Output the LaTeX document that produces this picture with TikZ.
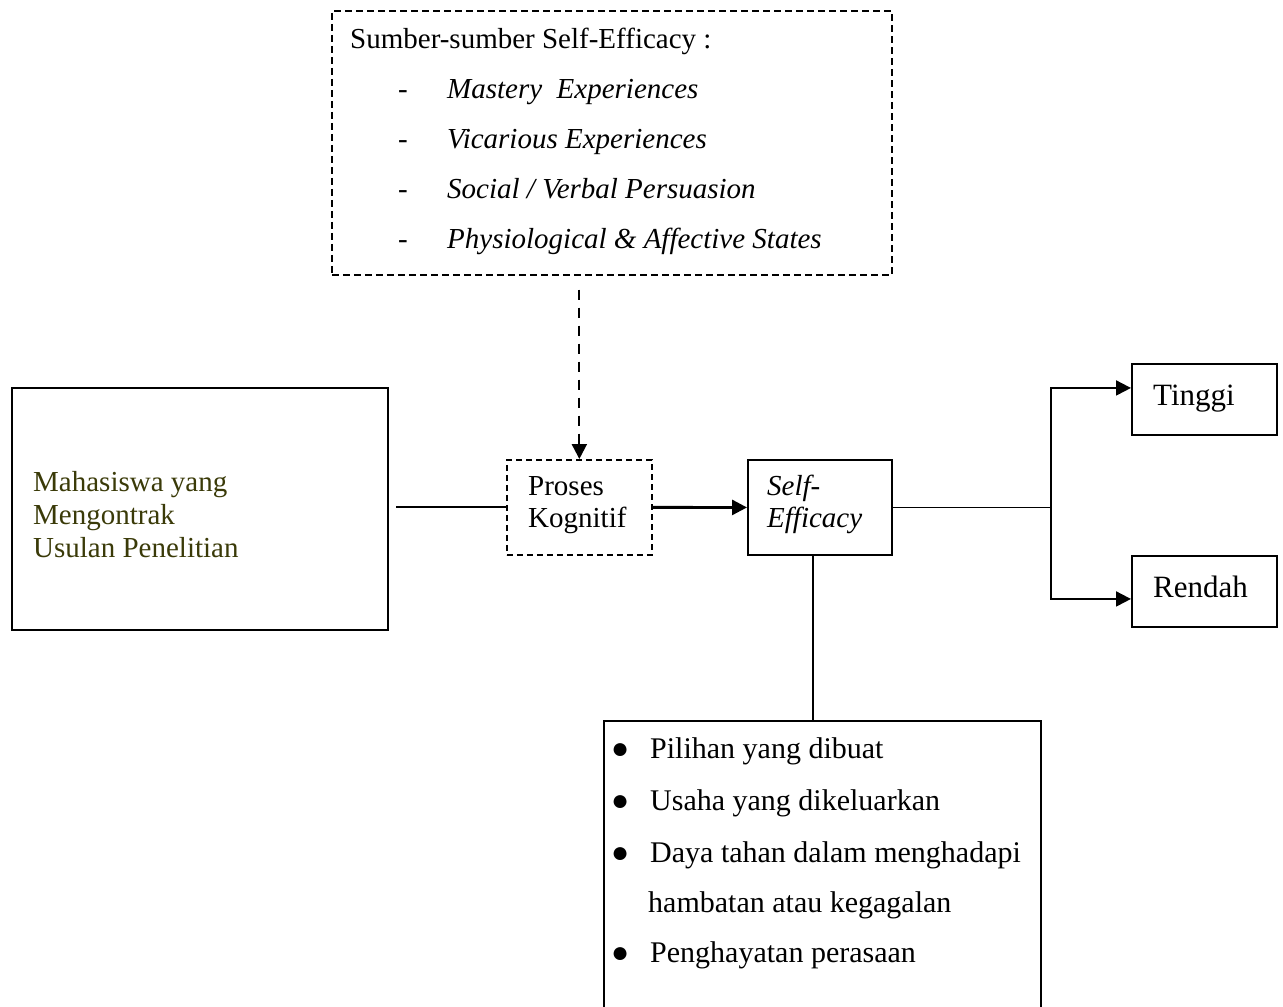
\documentclass[tikz,border=0pt]{standalone}
\usepackage{fontspec}
\setmainfont{Liberation Serif}
\usetikzlibrary{arrows.meta, positioning}
\definecolor{olivetext}{RGB}{58,58,8}

\begin{document}
\begin{tikzpicture}[x=1pt, y=-1pt,
        box/.style={draw, line width=1.9pt, inner sep=0pt, anchor=north west},
        dashbox/.style={box, line width=1.7pt, dash pattern=on 6pt off 4pt},
        txt/.style={anchor=base west, inner sep=0pt, font=\fontsize{29}{33}\selectfont},
        bigtxt/.style={txt, font=\fontsize{31}{35}\selectfont},
        listtxt/.style={txt, font=\fontsize{30}{34}\selectfont},
        link/.style={line width=1.9pt},
        arrow/.style={link, -{Triangle[length=15pt, width=15pt]}}
    ]
        \useasboundingbox (0,0) rectangle (1283,1007);

        % boxes
        \node[dashbox, dash pattern=on 7pt off 4pt, minimum width=560, minimum height=264] (sumber) at (331,10) {};
        \node[box, minimum width=376, minimum height=242] (mhs) at (11,387) {};
        \node[dashbox, minimum width=145, minimum height=95] (proses) at (506,459) {};
        \node[box, minimum width=144, minimum height=95] (se) at (747,459) {};
        \node[box, minimum width=145, minimum height=71] (tinggi) at (1131,363) {};
        \node[box, minimum width=145, minimum height=71] (rendah) at (1131,555) {};
        \node[box, minimum width=437, minimum height=320] (dampak) at (603,720) {};

        % texts
        \node[txt] (sumber-title) at (350,48) {Sumber-sumber Self-Efficacy :};
        \foreach \y/\item [count=\i] in {98/{Mastery\ \ Experiences}, 148/{Vicarious Experiences},
            198/{Social / Verbal Persuasion}, 248/{Physiological \& Affective States}} {
            \node[txt] (dash-\i) at (398,\y) {-};
            \node[txt, font=\fontsize{29}{33}\selectfont\itshape] (src-\i) at (447,\y) {\item};
        }
        \foreach \y/\line [count=\i] in {491/{Mahasiswa yang}, 524/{Mengontrak}, 557/{Usulan Penelitian}}
            \node[txt, text=olivetext] (mhs-\i) at (33,\y) {\line};
        \node[txt] (proses-1) at (528,495) {Proses};
        \node[txt] (proses-2) at (528,527) {Kognitif};
        \node[txt, font=\fontsize{29}{33}\selectfont\itshape] (se-1) at (767,495) {Self-};
        \node[txt, font=\fontsize{29}{33}\selectfont\itshape] (se-2) at (767,527) {Efficacy};
        \node[bigtxt] (tinggi-txt) at (1153,405) {Tinggi};
        \node[bigtxt] (rendah-txt) at (1153,597) {Rendah};
        \foreach \y/\item [count=\i] in {758/{Pilihan yang dibuat}, 810/{Usaha yang dikeluarkan},
            862/{Daya tahan dalam menghadapi}, 962/{Penghayatan perasaan}} {
            \node[listtxt] (dot-\i) at (611,\y) {●};
            \node[listtxt] (item-\i) at (650,\y) {\item};
        }
        \node[listtxt] (item-3b) at (648,912) {hambatan atau kegagalan};

        % connectors
        \coordinate (mhs-out) at (396,0);
        \coordinate (fork) at (1051,0);
        \draw[link] (proses.west -| mhs-out) -- (proses.west);
        \draw[arrow, line width=2.8pt] (proses.east) -- (se.west);
        \draw[link] (se.east) -- (se.east -| fork);
        \draw[arrow] (se.east -| fork) |- ([yshift=11.5pt]tinggi.west);
        \draw[arrow] (se.east -| fork) |- ([yshift=-7.5pt]rendah.west);
        \draw[link] ([xshift=-7pt]se.south) -- ([xshift=-7pt]se.south |- dampak.north);
        \draw[arrow, line width=2.2pt, dash pattern=on 10pt off 8pt] ([yshift=-14pt]sumber.south -| proses.north) -- (proses.north);
    \end{tikzpicture}
\end{document}
